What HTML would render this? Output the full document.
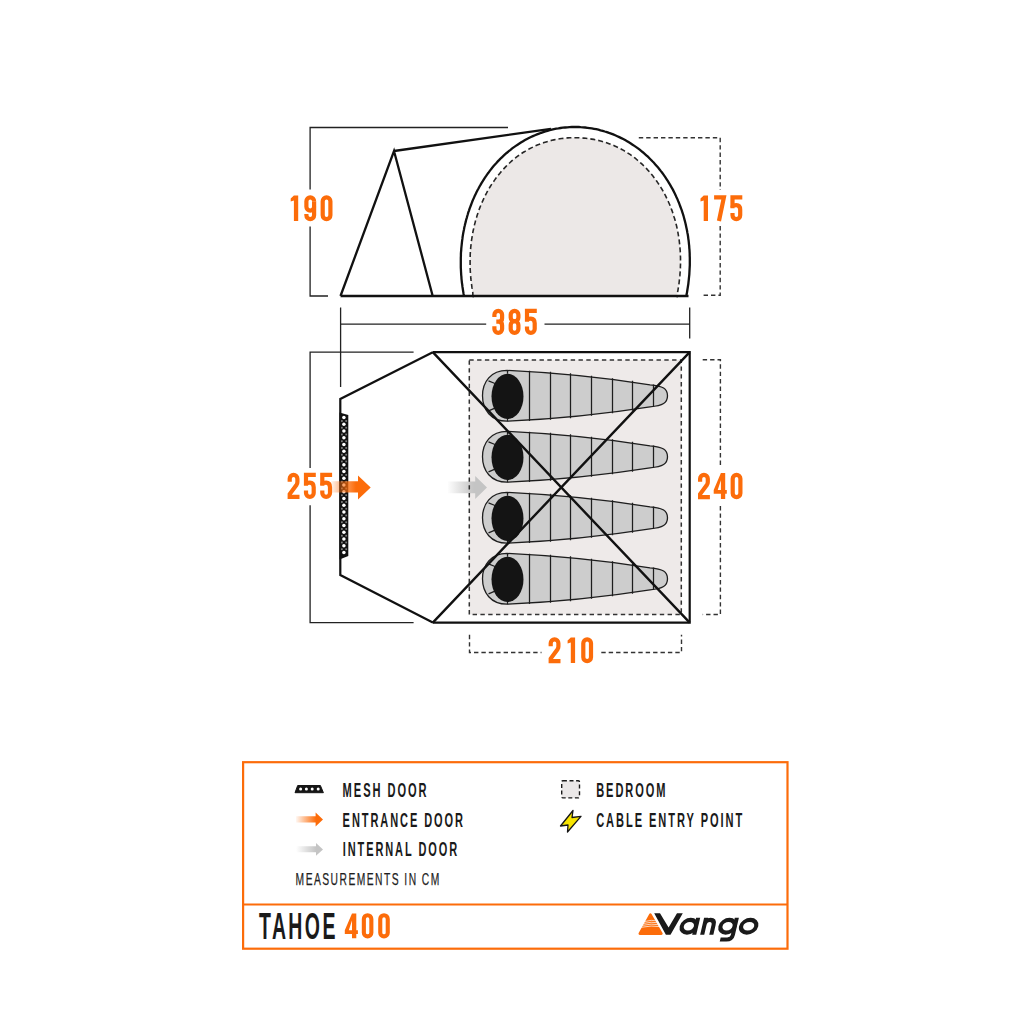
<!DOCTYPE html>
<html><head><meta charset="utf-8">
<style>
html,body{margin:0;padding:0;background:#fff;width:1030px;height:1030px;overflow:hidden;}
svg{display:block;}
text{font-family:"Liberation Sans",sans-serif;}
</style></head>
<body>
<svg width="1030" height="1030" viewBox="0 0 1030 1030">
<defs>
  <linearGradient id="og" x1="331" y1="0" x2="356" y2="0" gradientUnits="userSpaceOnUse">
    <stop offset="0" stop-color="#fc6c0a" stop-opacity="0.05"/>
    <stop offset="0.5" stop-color="#fc6c0a" stop-opacity="0.6"/>
    <stop offset="1" stop-color="#fc6c0a" stop-opacity="1"/>
  </linearGradient>
  <linearGradient id="gg" x1="447" y1="0" x2="474" y2="0" gradientUnits="userSpaceOnUse">
    <stop offset="0" stop-color="#c4c4c4" stop-opacity="0"/>
    <stop offset="1" stop-color="#c4c4c4" stop-opacity="1"/>
  </linearGradient>
  <linearGradient id="og2" x1="296" y1="0" x2="316" y2="0" gradientUnits="userSpaceOnUse">
    <stop offset="0" stop-color="#fc6c0a" stop-opacity="0.05"/>
    <stop offset="1" stop-color="#fc6c0a" stop-opacity="1"/>
  </linearGradient>
  <linearGradient id="gg2" x1="296" y1="0" x2="316" y2="0" gradientUnits="userSpaceOnUse">
    <stop offset="0" stop-color="#c4c4c4" stop-opacity="0"/>
    <stop offset="1" stop-color="#c4c4c4" stop-opacity="1"/>
  </linearGradient>
  <g id="bag">
    <path d="M507 -25.4 Q580 -22 650 -11 C663 -10 667.5 -7 667.5 0 C667.5 7 663 10 650 11 Q580 22 507 25.4 C491 25.4 482.5 14 482.5 0 C482.5 -14 491 -25.4 507 -25.4 Z" fill="#cdcdcd" stroke="#1e1e1e" stroke-width="1.3"/>
    <path d="M529.5 -25 V25.1 M550.5 -24 V24 M570.5 -22.5 V22.5 M591.5 -20 V20 M612.5 -17.5 V17.5 M632.5 -15 V15 M653.5 -11.3 V11.3 M507.5 -25.4 V-22 M507.5 25.4 V22 M488.5 -15 L495 -12.3 M488.5 15 L495 12.3" stroke="#1e1e1e" stroke-width="1.25" fill="none"/>
    <ellipse cx="507.5" cy="0.6" rx="16" ry="22.6" fill="#141414"/>
  </g>
</defs>

<!-- ===== side view ===== -->
<g fill="none" stroke="#222" stroke-width="1.3">
  <path d="M508 127.5 H310.1 V189.6 M310.1 226.5 V296 H328"/>
</g>
<path d="M472.6 296.6 L472.9 296.6 L472.8 292.6 L472.5 290.8 L472.2 289.0 L471.9 287.2 L471.7 285.4 L471.4 283.6 L471.2 281.8 L471.0 280.0 L470.8 278.2 L470.7 276.4 L470.5 274.6 L470.4 272.8 L470.3 271.0 L470.2 269.2 L470.1 267.4 L470.1 265.6 L470.1 263.8 L470.1 262.0 L470.1 260.2 L470.1 258.4 L470.2 256.6 L470.2 254.8 L470.3 253.0 L470.4 251.2 L470.6 249.4 L470.7 247.6 L470.9 245.8 L471.1 244.1 L471.3 242.3 L471.5 240.5 L471.8 238.7 L472.1 236.9 L472.4 235.1 L472.7 233.3 L473.0 231.5 L473.4 229.8 L473.8 228.0 L474.2 226.2 L474.6 224.4 L475.1 222.6 L475.5 220.9 L476.0 219.1 L476.6 217.3 L477.1 215.6 L477.7 213.8 L478.3 212.1 L478.9 210.3 L479.5 208.6 L480.2 206.8 L480.9 205.1 L481.6 203.4 L482.4 201.6 L483.2 199.9 L484.0 198.2 L484.8 196.5 L485.6 194.8 L486.5 193.2 L487.4 191.5 L488.4 189.8 L489.3 188.2 L490.3 186.5 L491.3 184.9 L492.4 183.3 L493.5 181.7 L494.6 180.1 L495.7 178.5 L496.9 177.0 L498.0 175.5 L499.3 173.9 L500.5 172.4 L501.8 171.0 L503.1 169.5 L504.4 168.1 L505.8 166.6 L507.2 165.2 L508.6 163.9 L510.1 162.5 L511.5 161.2 L513.0 159.9 L514.6 158.7 L516.1 157.4 L517.7 156.2 L519.3 155.1 L521.0 153.9 L522.6 152.8 L524.3 151.8 L526.0 150.7 L527.8 149.7 L529.5 148.8 L531.3 147.9 L533.1 147.0 L534.9 146.1 L536.7 145.3 L538.6 144.6 L540.4 143.8 L542.3 143.1 L544.2 142.5 L546.1 141.9 L548.1 141.3 L550.0 140.8 L551.9 140.3 L553.9 139.9 L555.9 139.5 L557.8 139.1 L559.8 138.8 L561.8 138.5 L563.8 138.3 L565.8 138.1 L567.8 137.9 L569.8 137.8 L571.8 137.7 L573.8 137.7 L575.8 137.7 L577.8 137.7 L579.8 137.8 L581.8 137.9 L583.8 138.1 L585.8 138.3 L587.7 138.5 L589.7 138.8 L591.7 139.1 L593.7 139.4 L595.6 139.8 L597.6 140.2 L599.6 140.7 L601.5 141.2 L603.4 141.8 L605.3 142.4 L607.2 143.0 L609.1 143.7 L611.0 144.4 L612.9 145.1 L614.7 145.9 L616.5 146.7 L618.3 147.6 L620.1 148.5 L621.9 149.5 L623.6 150.4 L625.3 151.5 L627.0 152.5 L628.7 153.6 L630.4 154.7 L632.0 155.9 L633.6 157.0 L635.2 158.2 L636.7 159.5 L638.2 160.8 L639.7 162.1 L641.2 163.4 L642.6 164.7 L644.0 166.1 L645.4 167.5 L646.8 168.9 L648.1 170.4 L649.4 171.8 L650.7 173.3 L651.9 174.8 L653.1 176.3 L654.3 177.9 L655.5 179.4 L656.6 181.0 L657.7 182.6 L658.8 184.2 L659.8 185.8 L660.8 187.4 L661.8 189.0 L662.8 190.7 L663.7 192.3 L664.6 194.0 L665.5 195.7 L666.3 197.4 L667.1 199.1 L667.9 200.8 L668.7 202.5 L669.5 204.2 L670.2 205.9 L670.9 207.7 L671.5 209.4 L672.2 211.1 L672.8 212.9 L673.4 214.6 L673.9 216.4 L674.5 218.2 L675.0 219.9 L675.5 221.7 L675.9 223.5 L676.4 225.2 L676.8 227.0 L677.2 228.8 L677.6 230.6 L677.9 232.4 L678.2 234.2 L678.5 235.9 L678.8 237.7 L679.1 239.5 L679.3 241.3 L679.5 243.1 L679.7 244.9 L679.9 246.7 L680.0 248.5 L680.2 250.3 L680.3 252.1 L680.4 253.9 L680.4 255.6 L680.5 257.4 L680.5 259.2 L680.5 261.0 L680.5 262.8 L680.5 264.6 L680.4 266.4 L680.4 268.2 L680.3 270.0 L680.2 271.8 L680.0 273.6 L679.9 275.4 L679.7 277.2 L679.5 279.0 L679.3 280.8 L679.1 282.6 L678.9 284.4 L678.6 286.2 L678.3 288.0 L678.0 289.8 L677.7 291.6 L677.3 293.4 L677.4 296.6 L677.7 296.6 Z" fill="#ece8e7"/>
<path d="M472.6 296.6 L472.9 296.6 L472.8 292.6 L472.5 290.8 L472.2 289.0 L471.9 287.2 L471.7 285.4 L471.4 283.6 L471.2 281.8 L471.0 280.0 L470.8 278.2 L470.7 276.4 L470.5 274.6 L470.4 272.8 L470.3 271.0 L470.2 269.2 L470.1 267.4 L470.1 265.6 L470.1 263.8 L470.1 262.0 L470.1 260.2 L470.1 258.4 L470.2 256.6 L470.2 254.8 L470.3 253.0 L470.4 251.2 L470.6 249.4 L470.7 247.6 L470.9 245.8 L471.1 244.1 L471.3 242.3 L471.5 240.5 L471.8 238.7 L472.1 236.9 L472.4 235.1 L472.7 233.3 L473.0 231.5 L473.4 229.8 L473.8 228.0 L474.2 226.2 L474.6 224.4 L475.1 222.6 L475.5 220.9 L476.0 219.1 L476.6 217.3 L477.1 215.6 L477.7 213.8 L478.3 212.1 L478.9 210.3 L479.5 208.6 L480.2 206.8 L480.9 205.1 L481.6 203.4 L482.4 201.6 L483.2 199.9 L484.0 198.2 L484.8 196.5 L485.6 194.8 L486.5 193.2 L487.4 191.5 L488.4 189.8 L489.3 188.2 L490.3 186.5 L491.3 184.9 L492.4 183.3 L493.5 181.7 L494.6 180.1 L495.7 178.5 L496.9 177.0 L498.0 175.5 L499.3 173.9 L500.5 172.4 L501.8 171.0 L503.1 169.5 L504.4 168.1 L505.8 166.6 L507.2 165.2 L508.6 163.9 L510.1 162.5 L511.5 161.2 L513.0 159.9 L514.6 158.7 L516.1 157.4 L517.7 156.2 L519.3 155.1 L521.0 153.9 L522.6 152.8 L524.3 151.8 L526.0 150.7 L527.8 149.7 L529.5 148.8 L531.3 147.9 L533.1 147.0 L534.9 146.1 L536.7 145.3 L538.6 144.6 L540.4 143.8 L542.3 143.1 L544.2 142.5 L546.1 141.9 L548.1 141.3 L550.0 140.8 L551.9 140.3 L553.9 139.9 L555.9 139.5 L557.8 139.1 L559.8 138.8 L561.8 138.5 L563.8 138.3 L565.8 138.1 L567.8 137.9 L569.8 137.8 L571.8 137.7 L573.8 137.7 L575.8 137.7 L577.8 137.7 L579.8 137.8 L581.8 137.9 L583.8 138.1 L585.8 138.3 L587.7 138.5 L589.7 138.8 L591.7 139.1 L593.7 139.4 L595.6 139.8 L597.6 140.2 L599.6 140.7 L601.5 141.2 L603.4 141.8 L605.3 142.4 L607.2 143.0 L609.1 143.7 L611.0 144.4 L612.9 145.1 L614.7 145.9 L616.5 146.7 L618.3 147.6 L620.1 148.5 L621.9 149.5 L623.6 150.4 L625.3 151.5 L627.0 152.5 L628.7 153.6 L630.4 154.7 L632.0 155.9 L633.6 157.0 L635.2 158.2 L636.7 159.5 L638.2 160.8 L639.7 162.1 L641.2 163.4 L642.6 164.7 L644.0 166.1 L645.4 167.5 L646.8 168.9 L648.1 170.4 L649.4 171.8 L650.7 173.3 L651.9 174.8 L653.1 176.3 L654.3 177.9 L655.5 179.4 L656.6 181.0 L657.7 182.6 L658.8 184.2 L659.8 185.8 L660.8 187.4 L661.8 189.0 L662.8 190.7 L663.7 192.3 L664.6 194.0 L665.5 195.7 L666.3 197.4 L667.1 199.1 L667.9 200.8 L668.7 202.5 L669.5 204.2 L670.2 205.9 L670.9 207.7 L671.5 209.4 L672.2 211.1 L672.8 212.9 L673.4 214.6 L673.9 216.4 L674.5 218.2 L675.0 219.9 L675.5 221.7 L675.9 223.5 L676.4 225.2 L676.8 227.0 L677.2 228.8 L677.6 230.6 L677.9 232.4 L678.2 234.2 L678.5 235.9 L678.8 237.7 L679.1 239.5 L679.3 241.3 L679.5 243.1 L679.7 244.9 L679.9 246.7 L680.0 248.5 L680.2 250.3 L680.3 252.1 L680.4 253.9 L680.4 255.6 L680.5 257.4 L680.5 259.2 L680.5 261.0 L680.5 262.8 L680.5 264.6 L680.4 266.4 L680.4 268.2 L680.3 270.0 L680.2 271.8 L680.0 273.6 L679.9 275.4 L679.7 277.2 L679.5 279.0 L679.3 280.8 L679.1 282.6 L678.9 284.4 L678.6 286.2 L678.3 288.0 L678.0 289.8 L677.7 291.6 L677.3 293.4 L677.4 296.6 L677.7 296.6" fill="none" stroke="#262626" stroke-width="1.6" stroke-dasharray="5 3"/>
<path d="M464.0 295.9 L463.6 294.0 L463.3 292.1 L463.0 290.2 L462.7 288.3 L462.4 286.4 L462.2 284.5 L461.9 282.6 L461.7 280.7 L461.5 278.8 L461.4 276.9 L461.2 275.0 L461.1 273.1 L461.0 271.2 L460.9 269.3 L460.8 267.4 L460.8 265.5 L460.8 263.6 L460.8 261.7 L460.8 259.8 L460.8 257.9 L460.9 256.0 L460.9 254.1 L461.0 252.2 L461.2 250.3 L461.3 248.4 L461.5 246.5 L461.7 244.6 L461.9 242.7 L462.1 240.8 L462.4 238.9 L462.6 237.0 L462.9 235.1 L463.2 233.2 L463.6 231.3 L464.0 229.4 L464.3 227.5 L464.8 225.6 L465.2 223.7 L465.7 221.9 L466.1 220.0 L466.7 218.1 L467.2 216.2 L467.8 214.3 L468.3 212.4 L469.0 210.6 L469.6 208.7 L470.3 206.8 L471.0 205.0 L471.7 203.1 L472.4 201.3 L473.2 199.4 L474.0 197.6 L474.8 195.7 L475.7 193.9 L476.6 192.1 L477.5 190.3 L478.5 188.5 L479.4 186.7 L480.5 184.9 L481.5 183.1 L482.6 181.4 L483.7 179.6 L484.8 177.9 L486.0 176.2 L487.2 174.4 L488.4 172.8 L489.6 171.1 L490.9 169.4 L492.2 167.8 L493.6 166.1 L495.0 164.5 L496.4 163.0 L497.8 161.4 L499.3 159.9 L500.8 158.3 L502.4 156.8 L503.9 155.4 L505.5 153.9 L507.2 152.5 L508.8 151.1 L510.5 149.8 L512.2 148.4 L514.0 147.1 L515.8 145.9 L517.6 144.7 L519.4 143.5 L521.3 142.3 L523.1 141.2 L525.0 140.1 L527.0 139.0 L528.9 138.0 L530.9 137.0 L532.9 136.1 L535.0 135.2 L537.0 134.4 L539.1 133.6 L541.2 132.8 L543.3 132.1 L545.4 131.4 L547.5 130.8 L549.7 130.2 L551.8 129.7 L554.0 129.2 L556.2 128.7 L558.4 128.4 L560.6 128.0 L562.8 127.7 L565.1 127.5 L567.3 127.3 L569.5 127.1 L571.8 127.0 L574.0 127.0 L576.2 127.0 L578.5 127.0 L580.7 127.2 L582.9 127.3 L585.2 127.5 L587.4 127.8 L589.6 128.1 L591.8 128.4 L594.0 128.8 L596.2 129.2 L598.4 129.7 L600.5 130.3 L602.7 130.8 L604.8 131.5 L606.9 132.1 L609.0 132.9 L611.1 133.6 L613.2 134.4 L615.2 135.3 L617.3 136.2 L619.3 137.1 L621.3 138.1 L623.2 139.1 L625.1 140.1 L627.1 141.2 L628.9 142.3 L630.8 143.5 L632.6 144.7 L634.4 145.9 L636.2 147.1 L638.0 148.4 L639.7 149.7 L641.4 151.1 L643.1 152.5 L644.7 153.9 L646.3 155.3 L647.9 156.7 L649.4 158.2 L650.9 159.7 L652.4 161.3 L653.9 162.8 L655.3 164.4 L656.7 166.0 L658.1 167.6 L659.4 169.2 L660.7 170.9 L662.0 172.5 L663.2 174.2 L664.4 175.9 L665.6 177.6 L666.7 179.3 L667.9 181.1 L668.9 182.8 L670.0 184.6 L671.0 186.4 L672.0 188.2 L673.0 189.9 L673.9 191.8 L674.8 193.6 L675.7 195.4 L676.5 197.2 L677.4 199.1 L678.1 200.9 L678.9 202.7 L679.6 204.6 L680.3 206.5 L681.0 208.3 L681.7 210.2 L682.3 212.1 L682.9 213.9 L683.5 215.8 L684.0 217.7 L684.5 219.6 L685.0 221.5 L685.5 223.4 L685.9 225.3 L686.3 227.2 L686.7 229.1 L687.1 231.0 L687.4 232.9 L687.8 234.8 L688.1 236.7 L688.3 238.6 L688.6 240.5 L688.8 242.4 L689.0 244.3 L689.2 246.2 L689.3 248.1 L689.5 250.0 L689.6 251.9 L689.7 253.8 L689.7 255.7 L689.8 257.6 L689.8 259.5 L689.8 261.4 L689.8 263.3 L689.8 265.2 L689.7 267.1 L689.6 268.9 L689.5 270.8 L689.4 272.7 L689.3 274.6 L689.1 276.5 L688.9 278.4 L688.7 280.3 L688.5 282.2 L688.3 284.1 L688.0 286.0 L687.7 287.9 L687.4 289.8 L687.1 291.7 L686.8 293.6 L686.4 295.5 L686.3 295.8" fill="none" stroke="#111" stroke-width="2.3"/>
<path d="M340.5 296 L394 151 L432.7 296 M394 151 L551 128.9 M340.5 296 H688.5" fill="none" stroke="#111" stroke-width="2.3" stroke-linejoin="miter"/>
<path d="M638.8 137.8 H720.2 V190 M720.2 226 V295.2 H702.1" fill="none" stroke="#333" stroke-width="1.4" stroke-dasharray="4.4 3"/>

<!-- 385 -->
<path d="M340.6 307.5 V387 M340.6 324.2 H486.2 M544.5 324.2 H689.7 M689.7 307.5 V338.5" fill="none" stroke="#222" stroke-width="1.3"/>

<!-- ===== floor plan ===== -->
<path d="M413.6 352.2 H310.1 V468 M310.1 505.2 V622.7 H413.6" fill="none" stroke="#222" stroke-width="1.3"/>
<path d="M702.7 359.8 H720.4 V466 M720.4 506 V614.5 H702.7" fill="none" stroke="#333" stroke-width="1.4" stroke-dasharray="4.4 3"/>
<path d="M469.5 634.8 V652.5 H541.5 M601.3 652.5 H681.5 V634.8" fill="none" stroke="#333" stroke-width="1.4" stroke-dasharray="4.4 3"/>

<rect x="469.3" y="360" width="212" height="254.5" fill="#eeeae9"/>
<use href="#bag" transform="translate(0 395.8)"/>
<use href="#bag" transform="translate(0 456.8)"/>
<use href="#bag" transform="translate(0 517.8)"/>
<use href="#bag" transform="translate(0 578.8)"/>
<!-- internal arrow -->
<path d="M448 481.6 H475.2 V475.9 L487 487.4 L475.2 499 V493.2 H448 Z" fill="url(#gg)"/>
<rect x="469.3" y="360" width="212" height="254.5" fill="none" stroke="#333" stroke-width="1.5" stroke-dasharray="4.4 3.4"/>

<path d="M432.8 352.2 L340.3 399 V575 L432.8 622.6 M432.8 352.2 H689.7 V622.6 H432.8" fill="none" stroke="#111" stroke-width="2.2" stroke-linejoin="miter"/>
<path d="M432.8 352.2 L689.7 622.6 M689.7 352.2 L432.8 622.6" fill="none" stroke="#111" stroke-width="2.4"/>

<!-- mesh door -->
<path d="M339.5 412.4 L348.3 415.1 V556.1 L339.5 559.6 Z" fill="#111"/>
<g fill="#fff"><circle cx="343.9" cy="417.60" r="1.75"/><circle cx="343.9" cy="424.35" r="1.75"/><circle cx="343.9" cy="431.10" r="1.75"/><circle cx="343.9" cy="437.85" r="1.75"/><circle cx="343.9" cy="444.60" r="1.75"/><circle cx="343.9" cy="451.35" r="1.75"/><circle cx="343.9" cy="458.10" r="1.75"/><circle cx="343.9" cy="464.85" r="1.75"/><circle cx="343.9" cy="471.60" r="1.75"/><circle cx="343.9" cy="478.35" r="1.75"/><circle cx="343.9" cy="485.10" r="1.75"/><circle cx="343.9" cy="491.85" r="1.75"/><circle cx="343.9" cy="498.60" r="1.75"/><circle cx="343.9" cy="505.35" r="1.75"/><circle cx="343.9" cy="512.10" r="1.75"/><circle cx="343.9" cy="518.85" r="1.75"/><circle cx="343.9" cy="525.60" r="1.75"/><circle cx="343.9" cy="532.35" r="1.75"/><circle cx="343.9" cy="539.10" r="1.75"/><circle cx="343.9" cy="545.85" r="1.75"/><circle cx="343.9" cy="552.60" r="1.75"/></g>
<g fill="#7a7a7a"><rect x="341.0" y="420.08" width="1.8" height="1.8"/><rect x="345.3" y="420.08" width="1.8" height="1.8"/><rect x="341.0" y="426.83" width="1.8" height="1.8"/><rect x="345.3" y="426.83" width="1.8" height="1.8"/><rect x="341.0" y="433.58" width="1.8" height="1.8"/><rect x="345.3" y="433.58" width="1.8" height="1.8"/><rect x="341.0" y="440.33" width="1.8" height="1.8"/><rect x="345.3" y="440.33" width="1.8" height="1.8"/><rect x="341.0" y="447.08" width="1.8" height="1.8"/><rect x="345.3" y="447.08" width="1.8" height="1.8"/><rect x="341.0" y="453.83" width="1.8" height="1.8"/><rect x="345.3" y="453.83" width="1.8" height="1.8"/><rect x="341.0" y="460.58" width="1.8" height="1.8"/><rect x="345.3" y="460.58" width="1.8" height="1.8"/><rect x="341.0" y="467.33" width="1.8" height="1.8"/><rect x="345.3" y="467.33" width="1.8" height="1.8"/><rect x="341.0" y="474.08" width="1.8" height="1.8"/><rect x="345.3" y="474.08" width="1.8" height="1.8"/><rect x="341.0" y="480.83" width="1.8" height="1.8"/><rect x="345.3" y="480.83" width="1.8" height="1.8"/><rect x="341.0" y="487.58" width="1.8" height="1.8"/><rect x="345.3" y="487.58" width="1.8" height="1.8"/><rect x="341.0" y="494.33" width="1.8" height="1.8"/><rect x="345.3" y="494.33" width="1.8" height="1.8"/><rect x="341.0" y="501.08" width="1.8" height="1.8"/><rect x="345.3" y="501.08" width="1.8" height="1.8"/><rect x="341.0" y="507.83" width="1.8" height="1.8"/><rect x="345.3" y="507.83" width="1.8" height="1.8"/><rect x="341.0" y="514.58" width="1.8" height="1.8"/><rect x="345.3" y="514.58" width="1.8" height="1.8"/><rect x="341.0" y="521.33" width="1.8" height="1.8"/><rect x="345.3" y="521.33" width="1.8" height="1.8"/><rect x="341.0" y="528.08" width="1.8" height="1.8"/><rect x="345.3" y="528.08" width="1.8" height="1.8"/><rect x="341.0" y="534.83" width="1.8" height="1.8"/><rect x="345.3" y="534.83" width="1.8" height="1.8"/><rect x="341.0" y="541.58" width="1.8" height="1.8"/><rect x="345.3" y="541.58" width="1.8" height="1.8"/><rect x="341.0" y="548.33" width="1.8" height="1.8"/><rect x="345.3" y="548.33" width="1.8" height="1.8"/></g>
<!-- entrance arrow -->
<path d="M331 481.3 H358 V475.6 L370.7 487.4 L358 499.5 V492.6 H331 Z" fill="url(#og)"/>

<!-- numbers -->

<!-- ===== legend ===== -->
<rect x="243.1" y="762.2" width="544.4" height="186.5" fill="none" stroke="#fc6c0a" stroke-width="2.2"/>
<path d="M243.1 904.5 H787.5" stroke="#fc6c0a" stroke-width="2.2"/>

<path d="M297.7 785.5 H320.4 L323.4 792.7 H295 Z" fill="#151515" stroke="#151515" stroke-width="1" stroke-linejoin="round"/>
<g fill="#fff"><circle cx="300.6" cy="789" r="1.5"/><circle cx="306.4" cy="789" r="1.5"/><circle cx="312.2" cy="789" r="1.5"/><circle cx="318.2" cy="789" r="1.5"/></g>
<path d="M296 816.2 H315.6 V812.6 L323 819.5 L315.6 826.5 V822.6 H296 Z" fill="url(#og2)"/>
<path d="M296 846.2 H316 V843.1 L323 849.5 L316 855.8 V852.3 H296 Z" fill="url(#gg2)"/>


<rect x="561.7" y="780.7" width="17.8" height="17.2" rx="1.2" fill="#ebe8e8" stroke="#1a1a1a" stroke-width="1.4" stroke-dasharray="4 2.6"/>
<path d="M573 810.5 L560.5 826 L568 825 L567.5 832 L581 816.3 L572 817.5 Z" fill="#f7e400" stroke="#151515" stroke-width="1.3" stroke-linejoin="round"/>



<!-- vango logo -->
<path d="M650.4 914.6 L639.8 933.6 H661.4 Z" fill="#fc6c0a" stroke="#fc6c0a" stroke-width="2.6" stroke-linejoin="round"/>
<g stroke="#fff" stroke-width="0.75" fill="none" opacity="0.95">
<path d="M644.2 921.6 Q651 919.4 658.6 921.0"/>
<path d="M643.2 923.5 Q651 921.3 659.5 922.9"/>
<path d="M642.2 925.4 Q651 923.2 660.4 924.8"/>
<path d="M641.3 927.3 Q651 925.1 661.3 926.7"/>
</g>
<path class="vlogo" d="M654.2 913.2 H660 L668.6 927.4 L677 913.2 H682.8 L670.5 934.8 H665.9 Z" fill="#1a1a1a"/>
<g transform="translate(0 934.8) skewX(-13) translate(0 -934.8)" fill="none" stroke="#1a1a1a" stroke-width="4.1">
<ellipse cx="686.9" cy="926.25" rx="7.1" ry="6.35"/>
<path d="M694.2 917.7 V934.8"/>
<path d="M702.2 917.7 V934.8 M702.2 925 Q702.2 919.9 706.75 919.9 Q711.3 919.9 711.3 925 V934.8"/>
<ellipse cx="725.6" cy="926.25" rx="7.1" ry="6.35"/>
<path d="M732.9 917.7 V935 Q732.9 939.5 727.8 939.5 H721.3"/>
<ellipse cx="746.7" cy="926.25" rx="7.55" ry="6.35"/>
</g>
<g fill="#fc6c0a" stroke="#fc6c0a"><g transform="translate(288.00 195.60)"><path d="M5.9,0 H10.2 V25.400000000000006 H5.9 V4.9 L2.7,5.9 V3.0 Z" stroke="none"/></g><g transform="translate(304.30 195.60)"><path d="M9.8,5.698 A3.8500000000000005,3.8500000000000005 0 0 0 2.1,5.698 V11.149999999999999 A3.8500000000000005,3.8500000000000005 0 0 0 9.8,11.149999999999999" fill="none" stroke-width="4.2" stroke-linejoin="miter" stroke-miterlimit="6"/><path d="M9.8,5.698 V19.702000000000005 A3.8500000000000005,3.8500000000000005 0 0 1 2.1,19.702000000000005 V18.4" fill="none" stroke-width="4.2" stroke-linejoin="miter" stroke-miterlimit="6"/></g><g transform="translate(320.60 195.60)"><path d="M2.1,5.698 A3.8500000000000005,3.8500000000000005 0 0 1 9.8,5.698 V19.702000000000005 A3.8500000000000005,3.8500000000000005 0 0 1 2.1,19.702000000000005 Z" fill="none" stroke-width="4.2" stroke-linejoin="miter" stroke-miterlimit="6"/></g></g>
<g fill="#fc6c0a" stroke="#fc6c0a"><g transform="translate(697.80 195.60)"><path d="M5.9,0 H10.2 V25.400000000000006 H5.9 V4.9 L2.7,5.9 V3.0 Z" stroke="none"/></g><g transform="translate(714.10 195.60)"><path d="M0,1.848 H9.8 L4.85,25.400000000000006" fill="none" stroke-width="4.2" stroke-linejoin="miter" stroke-miterlimit="6"/></g><g transform="translate(730.40 195.60)"><path d="M11.9,1.848 H2.1 V12.6" fill="none" stroke-width="4.2" stroke-linejoin="miter" stroke-miterlimit="6"/><path d="M2.1,11.6 Q2.1,9.6 5.95,9.6 Q9.8,9.6 9.8,14.2 V19.702000000000005 A3.8500000000000005,3.8500000000000005 0 0 1 2.1,19.702000000000005 V17.4" fill="none" stroke-width="4.2" stroke-linejoin="miter" stroke-miterlimit="6"/></g></g>
<g fill="#fc6c0a" stroke="#fc6c0a"><g transform="translate(492.30 309.10)"><path d="M2.1,8.0 V5.698 A3.8500000000000005,3.8500000000000005 0 0 1 9.8,5.698 V9.043999999999983 Q9.8,12.543999999999983 6.200000000000001,12.543999999999983 H4.0 M6.200000000000001,12.543999999999983 Q9.8,12.543999999999983 9.8,16.343999999999983 V19.901999999999965 A3.8500000000000005,3.8500000000000005 0 0 1 2.1,19.901999999999965 V17.2" fill="none" stroke-width="4.2" stroke-linejoin="miter" stroke-miterlimit="6"/></g><g transform="translate(508.60 309.10)"><path d="M2.1,5.5825000000000005 A3.7345000000000006,3.7345000000000006 0 0 1 9.8,5.5825000000000005 V8.297499999999983 A3.7345000000000006,3.7345000000000006 0 0 1 2.1,8.297499999999983 Z" fill="none" stroke-width="4.2" stroke-linejoin="miter" stroke-miterlimit="6"/><path d="M2.1,15.881999999999984 A3.8500000000000005,3.8500000000000005 0 0 1 9.8,15.881999999999984 V19.901999999999965 A3.8500000000000005,3.8500000000000005 0 0 1 2.1,19.901999999999965 Z" fill="none" stroke-width="4.2" stroke-linejoin="miter" stroke-miterlimit="6"/></g><g transform="translate(524.90 309.10)"><path d="M11.9,1.848 H2.1 V12.6" fill="none" stroke-width="4.2" stroke-linejoin="miter" stroke-miterlimit="6"/><path d="M2.1,11.6 Q2.1,9.6 5.95,9.6 Q9.8,9.6 9.8,14.2 V19.901999999999965 A3.8500000000000005,3.8500000000000005 0 0 1 2.1,19.901999999999965 V17.4" fill="none" stroke-width="4.2" stroke-linejoin="miter" stroke-miterlimit="6"/></g></g>
<g fill="#fc6c0a" stroke="#fc6c0a"><g transform="translate(287.60 473.10)"><path d="M2.1,8.6 V5.698 A3.8500000000000005,3.8500000000000005 0 0 1 9.8,5.698 V9.0 Q9.8,10.4 9.0,11.6 L2.1,21.0 V23.85199999999999 H11.9" fill="none" stroke-width="4.2" stroke-linejoin="miter" stroke-miterlimit="6"/></g><g transform="translate(303.90 473.10)"><path d="M11.9,1.848 H2.1 V12.6" fill="none" stroke-width="4.2" stroke-linejoin="miter" stroke-miterlimit="6"/><path d="M2.1,11.6 Q2.1,9.6 5.95,9.6 Q9.8,9.6 9.8,14.2 V20.00199999999999 A3.8500000000000005,3.8500000000000005 0 0 1 2.1,20.00199999999999 V17.4" fill="none" stroke-width="4.2" stroke-linejoin="miter" stroke-miterlimit="6"/></g><g transform="translate(320.20 473.10)"><path d="M11.9,1.848 H2.1 V12.6" fill="none" stroke-width="4.2" stroke-linejoin="miter" stroke-miterlimit="6"/><path d="M2.1,11.6 Q2.1,9.6 5.95,9.6 Q9.8,9.6 9.8,14.2 V20.00199999999999 A3.8500000000000005,3.8500000000000005 0 0 1 2.1,20.00199999999999 V17.4" fill="none" stroke-width="4.2" stroke-linejoin="miter" stroke-miterlimit="6"/></g></g>
<g fill="#fc6c0a" stroke="#fc6c0a"><g transform="translate(698.00 473.10)"><path d="M2.1,8.6 V5.698 A3.8500000000000005,3.8500000000000005 0 0 1 9.8,5.698 V9.0 Q9.8,10.4 9.0,11.6 L2.1,21.0 V23.951999999999956 H11.9" fill="none" stroke-width="4.2" stroke-linejoin="miter" stroke-miterlimit="6"/></g><g transform="translate(714.30 473.10)"><path fill-rule="evenodd" stroke="none" d="M6.6,0 H10.9 V16.8 H12.5 V20.6 H10.9 V25.799999999999955 H6.6 V20.6 H-0.6 V16.8 Z M6.6,7.2 V16.8 H3.4 Z"/></g><g transform="translate(730.60 473.10)"><path d="M2.1,5.698 A3.8500000000000005,3.8500000000000005 0 0 1 9.8,5.698 V20.101999999999954 A3.8500000000000005,3.8500000000000005 0 0 1 2.1,20.101999999999954 Z" fill="none" stroke-width="4.2" stroke-linejoin="miter" stroke-miterlimit="6"/></g></g>
<g fill="#fc6c0a" stroke="#fc6c0a"><g transform="translate(548.60 637.60)"><path d="M2.1,8.6 V5.698 A3.8500000000000005,3.8500000000000005 0 0 1 9.8,5.698 V9.0 Q9.8,10.4 9.0,11.6 L2.1,21.0 V23.451999999999956 H11.9" fill="none" stroke-width="4.2" stroke-linejoin="miter" stroke-miterlimit="6"/></g><g transform="translate(564.90 637.60)"><path d="M5.9,0 H10.2 V25.299999999999955 H5.9 V4.9 L2.7,5.9 V3.0 Z" stroke="none"/></g><g transform="translate(581.20 637.60)"><path d="M2.1,5.698 A3.8500000000000005,3.8500000000000005 0 0 1 9.8,5.698 V19.601999999999954 A3.8500000000000005,3.8500000000000005 0 0 1 2.1,19.601999999999954 Z" fill="none" stroke-width="4.2" stroke-linejoin="miter" stroke-miterlimit="6"/></g></g>
<text x="342.62" y="796.70" font-size="20.50" textLength="85.96" lengthAdjust="spacingAndGlyphs" font-weight="bold" fill="#1a1a1a" style="letter-spacing:3.6px;">MESH DOOR</text>
<text x="342.62" y="826.50" font-size="20.50" textLength="122.30" lengthAdjust="spacingAndGlyphs" font-weight="bold" fill="#1a1a1a" style="letter-spacing:3.6px;">ENTRANCE DOOR</text>
<text x="342.66" y="856.30" font-size="20.50" textLength="116.42" lengthAdjust="spacingAndGlyphs" font-weight="bold" fill="#1a1a1a" style="letter-spacing:3.6px;">INTERNAL DOOR</text>
<text x="295.62" y="884.92" font-size="16.96" textLength="145.18" lengthAdjust="spacingAndGlyphs" fill="#1e1e1e" style="letter-spacing:2.4px;" stroke="#1e1e1e" stroke-width="0.25" stroke-linejoin="round">MEASUREMENTS IN CM</text>
<text x="596.20" y="796.70" font-size="20.50" textLength="71.30" lengthAdjust="spacingAndGlyphs" font-weight="bold" fill="#1a1a1a" style="letter-spacing:3.6px;">BEDROOM</text>
<text x="596.20" y="826.50" font-size="20.50" textLength="147.96" lengthAdjust="spacingAndGlyphs" font-weight="bold" fill="#1a1a1a" style="letter-spacing:3.6px;">CABLE ENTRY POINT</text>
<text x="259.00" y="938.90" font-size="36.00" textLength="78.84" lengthAdjust="spacingAndGlyphs" font-weight="bold" fill="#1a1a1a" style="letter-spacing:4.5px;">TAHOE</text>
<g fill="#fc6c0a" stroke="#fc6c0a"><g transform="translate(345.40 913.40)"><path fill-rule="evenodd" stroke="none" d="M6.6,0 H10.9 V16.8 H12.5 V20.6 H10.9 V24.800000000000068 H6.6 V20.6 H-0.6 V16.8 Z M6.6,7.2 V16.8 H3.4 Z"/></g><g transform="translate(361.80 913.40)"><path d="M2.05,5.554 A3.7500000000000004,3.7500000000000004 0 0 1 9.55,5.554 V19.24600000000007 A3.7500000000000004,3.7500000000000004 0 0 1 2.05,19.24600000000007 Z" fill="none" stroke-width="4.1" stroke-linejoin="miter" stroke-miterlimit="6"/></g><g transform="translate(378.20 913.40)"><path d="M2.05,5.554 A3.7500000000000004,3.7500000000000004 0 0 1 9.55,5.554 V19.24600000000007 A3.7500000000000004,3.7500000000000004 0 0 1 2.05,19.24600000000007 Z" fill="none" stroke-width="4.1" stroke-linejoin="miter" stroke-miterlimit="6"/></g></g>

</svg>
</body></html>
